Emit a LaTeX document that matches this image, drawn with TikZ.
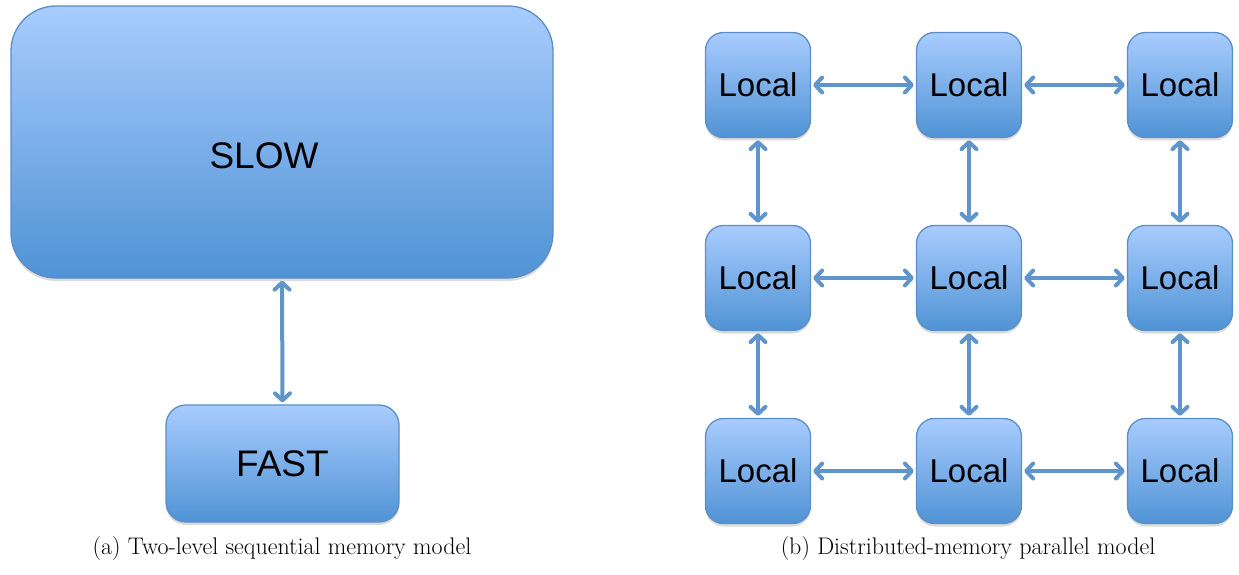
\documentclass[tikz,border=0pt]{standalone}
\usepackage{fontspec}
\newfontfamily\arial{Liberation Sans}
\usetikzlibrary{arrows.meta,shadows}
\definecolor{boxtop}{HTML}{A8CCFE}
\definecolor{boxbot}{HTML}{5093D5}
\definecolor{boxline}{HTML}{5B8EC6}
\definecolor{arrowc}{HTML}{5F95CB}
\tikzset{
  membox/.style={draw=boxline, line width=1.3pt, top color=boxtop, bottom color=boxbot,
    font=\arial, text=black, inner sep=0pt,
    drop shadow={shadow xshift=0pt, shadow yshift=-3pt, opacity=0.2, fill=black!70}},
  bigbox/.style={membox, minimum width=542pt, minimum height=272pt, rounded corners=45pt},
  fastbox/.style={membox, minimum width=233pt, minimum height=117pt, rounded corners=20pt, font=\arial\fontsize{37}{40}\selectfont},
  localbox/.style={membox, minimum width=105pt, minimum height=105pt, rounded corners=18pt, font=\arial\fontsize{33}{36}\selectfont},
  boxtext/.style={font=\arial\fontsize{37}{40}\selectfont, text=black, inner sep=0pt},
  link/.style={draw=arrowc, line width=4pt, {Straight Barb[length=7pt,width=15pt,line cap=round,line join=round]}-{Straight Barb[length=7pt,width=15pt,line cap=round,line join=round]}, shorten <=2pt, shorten >=2pt},
  caption/.style={font=\fontsize{24}{28}\selectfont, text=black}
}
\begin{document}
\begin{tikzpicture}[x=1pt,y=-1pt]
\useasboundingbox (0,0) rectangle (1239,575);
\node[bigbox] (slow) at (282,142) {};
\node[boxtext] (slowtext) at (264,156) {SLOW};
\node[fastbox] (fast) at (282.5,463.5) {FAST};
\draw[link] (slow.south) -- (fast.north);
\node[caption] (capa) at (282,549) {(a) Two-level sequential memory model};

\foreach \c/\x in {1/758,2/969,3/1180}{
  \foreach \r/\y in {1/85,2/278,3/471}{
    \node[localbox] (n\r\c) at (\x,\y) {Local};
  }
}
\foreach \r in {1,2,3}{
  \draw[link] (n\r1.east) -- (n\r2.west);
  \draw[link] (n\r2.east) -- (n\r3.west);
}
\foreach \c in {1,2,3}{
  \draw[link] (n1\c.south) -- (n2\c.north);
  \draw[link] (n2\c.south) -- (n3\c.north);
}
\node[caption] (capb) at (968,549) {(b) Distributed-memory parallel model};
\end{tikzpicture}
\end{document}
